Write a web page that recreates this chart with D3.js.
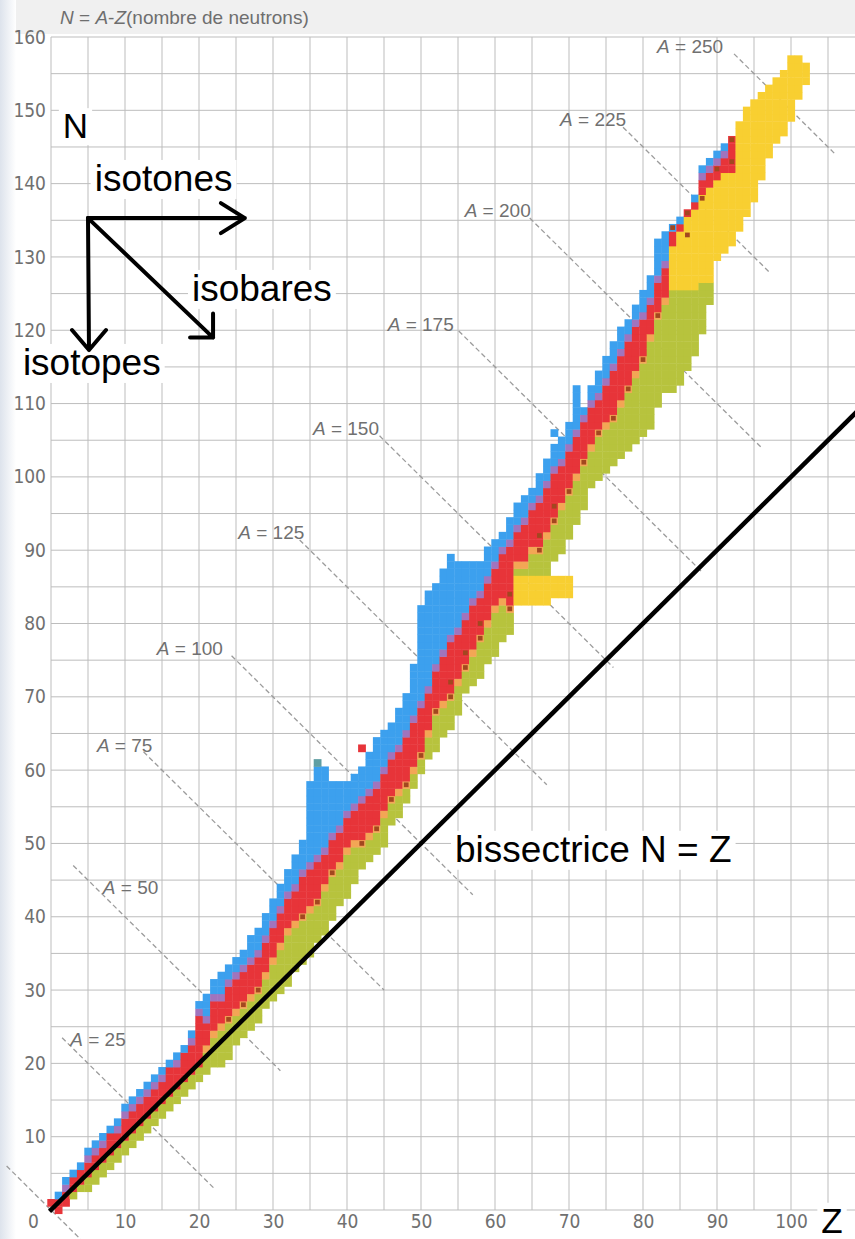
<!DOCTYPE html>
<html>
<head>
<meta charset="utf-8">
<script src="https://cdnjs.cloudflare.com/ajax/libs/d3/7.8.5/d3.min.js"></script>
<style>
    body { margin: 0; background: #fff; }
    svg { display: block; }
    .tick text { font-family: "Liberation Sans Narrow", "DejaVu Sans Condensed", sans-serif; fill: #707070; }
    .big { font-family: "Liberation Sans", Arial, sans-serif; fill: #000; }
</style>
</head>
<body>
<div id="chart"></div>
<script>
// one entry per Z (index = Z)
const zs = [0,1,2,3,4,5,6,7,8,9,10,11,12,13,14,15,16,17,18,19,20,
    21,22,23,24,25,26,27,28,29,30,31,32,33,34,35,36,37,38,39,40,
    41,42,43,44,45,46,47,48,49,50,51,52,53,54,55,56,57,58,59,60,
    61,62,63,64,65,66,67,68,69,70,71,72,73,74,75,76,77,78,79,80,
    81,82,83,84,85,86,87,88,89,90,91,92,93,94,95,96,97,98,99,100,101,102];

// lowest N drawn (proton-rich edge)
const nLow = [1,0,1,2,3,3,4,5,6,7,8,9,10,11,12,13,14,15,16,17,18,
    19,20,20,21,23,24,25,26,28,29,30,31,33,34,35,37,38,40,42,43,
    45,47,48,49,50,53,54,56,58,60,62,63,65,66,68,71,72,73,75,76,
    78,79,87,87,87,87,87,89,90,92,94,96,99,100,101,102,103,104,105,106,
    107,110,112,112,113,115,117,120,124,130,131,132,134,136,138,141,144,146,147,149,152,154];

// orange row just under the red band
const nOrange = [null,null,null,null,null,null,null,null,null,null,null,null,null,null,null,null,null,null,null,null,null,
    22,24,25,26,27,28,29,30,32,34,36,38,39,40,41,42,44,46,47,49,
    50,50,51,52,54,56,57,58,60,62,65,68,69,70,72,74,76,78,80,82,
    83,82,88,88,90,90,92,94,96,98,100,102,104,106,107,108,110,112,114,116,
    119,122,124,null,null,null,null,null,null,null,null,null,null,null,null,null,null,null,null,null,null,null];

// red band
const nRedLo = [1,0,1,3,4,5,6,7,8,9,10,11,12,13,14,15,16,17,18,19,20,
    23,25,26,27,28,29,30,31,33,35,37,39,40,41,42,43,45,47,48,50,
    51,51,52,53,55,57,58,59,61,63,66,69,70,71,73,75,77,79,81,83,
    84,83,89,89,91,91,93,95,97,99,101,103,105,107,108,109,111,113,115,117,
    120,123,125,132,134,136,137,139,140,141,142,142,null,null,null,null,null,null,null,null,null,null];
const nRedHi = [1,1,2,4,5,6,7,8,10,10,12,13,14,15,16,17,19,19,21,22,26,
    25,28,28,30,31,32,33,34,36,38,40,42,43,45,46,47,48,50,51,53,
    54,55,56,57,59,61,62,64,66,68,70,73,75,77,78,80,82,83,85,87,
    89,90,92,93,95,96,98,100,101,103,105,107,109,110,112,114,116,118,120,121,
    123,126,128,133,134,136,137,140,141,142,143,146,null,null,null,null,null,null,null,null,null,null];

// highest N drawn (neutron-rich edge)
const nHigh = [1,2,4,5,6,8,9,10,11,12,14,15,16,17,18,19,20,21,22,24,28,
    29,31,32,33,34,35,37,38,40,42,44,46,48,50,58,60,60,58,58,58,
    59,60,62,64,65,66,68,70,74,82,84,85,87,88,88,88,88,88,90,91,
    92,94,96,97,98,100,102,104,105,107,108,109,112,114,116,118,120,121,123,125,
    127,132,133,134,135,136,138,142,143,144,145,146,148,150,151,152,153,154,155,157,157,156];

// alpha emitters (yellow)
const alphaLo = [null,null,null,null,null,null,null,null,null,null,null,null,null,null,null,null,null,null,null,null,null,
    null,null,null,null,null,null,null,null,null,null,null,null,null,null,null,null,null,null,null,null,
    null,null,null,null,null,null,null,null,null,null,null,null,null,null,null,null,null,null,null,null,
    null,null,83,83,83,83,83,84,84,84,null,null,null,null,null,null,null,null,null,null,
    null,null,null,126,126,126,126,127,127,130,131,132,134,136,138,141,144,146,147,149,152,154];
const alphaHi = [null,null,null,null,null,null,null,null,null,null,null,null,null,null,null,null,null,null,null,null,null,
    null,null,null,null,null,null,null,null,null,null,null,null,null,null,null,null,null,null,null,null,
    null,null,null,null,null,null,null,null,null,null,null,null,null,null,null,null,null,null,null,null,
    null,null,86,86,86,86,86,86,86,86,null,null,null,null,null,null,null,null,null,null,
    null,null,null,131,133,135,136,138,139,140,141,141,148,150,151,152,153,154,155,157,157,156];

// small dark squares [Z, N]
const darkMarks = [[24,26],[26,28],[28,30],[34,40],[36,42],[38,46],[42,50],[44,52],[46,56],[48,58],
    [50,62],[52,68],[54,70],[54,72],[56,74],[56,76],[58,78],[58,80],[62,82],[62,84],
    [66,90],[66,92],[68,94],[68,96],[70,98],[72,102],[74,106],[76,108],[78,112],[80,116],
    [82,122],[84,134],[86,133],[86,136],[88,138],[90,142],[92,143],[92,146]];

// isolated cells [Z, N, kind]
const extraCells = [[36,61,'teal'],[42,63,'stable'],[54,89,'betaMinus'],[68,106,'betaMinus'],
    [71,109,'betaMinus'],[71,110,'betaMinus'],[71,111,'betaMinus'],[71,112,'betaMinus']];

// isobar lines A = const, with label anchor (Z, N)
const isobarA = [0,25,50,75,100,125,150,175,200,225,250];
const isobarZ0 = [-6,1.5,3,12.5,24.4,33.6,44.4,55.1,64.7,77.3,92.3];
const isobarZ1 = [4,22,31,45,57,67,76,88,96,97,106];
const labelZ = [null,2.6,7.0,6.2,14.3,25.3,35.4,45.5,55.9,68.8,81.9];
const labelN = [null,22.4,43.1,62.5,75.7,91.5,105.7,119.9,135.5,147.9,157.8];

const xTicks = [0,10,20,30,40,50,60,70,80,90,100];
const yTicks = [10,20,30,40,50,60,70,80,90,100,110,120,130,140,150,160];

const colors = {
    betaPlus: '#b7c33d',
    ec: '#f3a655',
    stable: '#e73439',
    mixed: '#a174bd',
    betaMinus: '#3ca0ee',
    alpha: '#f8cf31',
    teal: '#5f9ea3',
    dark: '#a3471f'
};

const W = 855, H = 1239;
const svg = d3.select('#chart').append('svg')
    .attr('width', W)
    .attr('height', H);

const x = d3.scaleLinear().domain([0, 100]).range([51, 791]);
const y = d3.scaleLinear().domain([0, 160]).range([1210, 37]);

// paper shading
const defs = svg.append('defs');
const lg = defs.append('linearGradient').attr('id', 'leftShade');
lg.append('stop').attr('offset', '0%').attr('stop-color', '#dde3ec');
lg.append('stop').attr('offset', '100%').attr('stop-color', '#ffffff');
svg.append('rect').attr('x', 0).attr('y', 0).attr('width', W).attr('height', 34).attr('fill', '#f0f0f0');
svg.append('rect').attr('x', 0).attr('y', 0).attr('width', 16).attr('height', H).attr('fill', 'url(#leftShade)');

// grid
const grid = svg.append('g').attr('stroke', '#bdbdbd').attr('stroke-width', 1);
grid.selectAll('.gv')
    .data(d3.range(0, 110, 5))
    .enter().append('line')
    .attr('x1', d => x(d)).attr('x2', d => x(d))
    .attr('y1', y(0)).attr('y2', y(160));
grid.selectAll('.gh')
    .data(d3.range(0, 165, 5))
    .enter().append('line')
    .attr('x1', x(0)).attr('x2', W)
    .attr('y1', d => y(d)).attr('y2', d => y(d));

// axes (labels only)
const yAxis = svg.append('g')
    .attr('transform', 'translate(' + x(0) + ',0)')
    .call(d3.axisLeft(y).tickValues(yTicks).tickSize(0).tickPadding(5));
const xAxis = svg.append('g')
    .attr('transform', 'translate(0,' + y(0) + ')')
    .call(d3.axisBottom(x).tickValues(xTicks).tickSize(0).tickPadding(5));
[yAxis, xAxis].forEach(a => {
    a.select('.domain').remove();
    a.selectAll('text').style('font-size', '19px');
});
xAxis.selectAll('.tick').filter(d => d === 0).select('text').attr('dx', -18);

// isobar lines
const iso = svg.append('g');
isobarA.forEach((a, i) => {
    iso.append('line')
        .attr('x1', x(isobarZ0[i])).attr('y1', y(a - isobarZ0[i]))
        .attr('x2', x(isobarZ1[i])).attr('y2', y(a - isobarZ1[i]))
        .attr('stroke', '#9c9c9c')
        .attr('stroke-width', 1.3)
        .attr('stroke-dasharray', '5,3');
    if (labelZ[i] != null) {
        const t = iso.append('text')
            .attr('x', x(labelZ[i]))
            .attr('y', y(labelN[i]))
            .style('font-family', '"Liberation Sans", Arial, sans-serif')
            .style('font-size', '19px')
            .style('fill', '#707070');
        t.append('tspan').style('font-style', 'italic').text('A');
        t.append('tspan').text(' = ' + a);
    }
});

// build cells
const cells = [];
zs.forEach((z, i) => {
    const lo = nLow[i], hi = nHigh[i], o = nOrange[i], rl = nRedLo[i], rh = nRedHi[i];
    const al = alphaLo[i], ah = alphaHi[i];
    const greenEnd = (o != null ? o : (rl != null ? rl : hi + 1)) - 1;
    for (let n = lo; n <= hi; n++) {
        let k;
        if (al != null && n >= al && n <= ah) k = 'alpha';
        else if (n <= greenEnd) k = 'betaPlus';
        else if (o != null && n === o) k = 'ec';
        else if (rl != null && n <= rh) k = 'stable';
        else if (rh != null && n === rh + 1 && hi >= rh + 2) k = 'mixed';
        else k = 'betaMinus';
        cells.push({z: z, n: n, k: k});
    }
    if (al != null) {
        for (let n = al; n <= ah; n++) {
            if (n < lo || n > hi) cells.push({z: z, n: n, k: 'alpha'});
        }
    }
});
extraCells.forEach(c => cells.push({z: c[0], n: c[1], k: c[2]}));

const cw = x(1) - x(0), ch = y(0) - y(1);
svg.append('g').selectAll('.cell')
    .data(cells)
    .enter().append('rect')
    .attr('class', 'cell')
    .attr('x', d => x(d.z - 0.5))
    .attr('y', d => y(d.n + 0.5))
    .attr('width', cw + 0.4)
    .attr('height', ch + 0.4)
    .attr('fill', d => colors[d.k]);

svg.append('g').selectAll('.mark')
    .data(darkMarks)
    .enter().append('rect')
    .attr('x', d => x(d[0] - 0.32))
    .attr('y', d => y(d[1] + 0.32))
    .attr('width', cw * 0.64)
    .attr('height', ch * 0.64)
    .attr('fill', colors.dark);

// bisector N = Z
svg.append('line')
    .attr('x1', x(-0.2)).attr('y1', y(-0.2))
    .attr('x2', x(110)).attr('y2', y(110))
    .attr('stroke', '#000')
    .attr('stroke-width', 4.5);

// big labels with white boxes behind
function bigLabel(txt, zx, ny, size) {
    const g = svg.append('g');
    const t = g.append('text')
        .attr('class', 'big')
        .attr('x', x(zx)).attr('y', y(ny))
        .style('font-size', size + 'px')
        .text(txt);
    const b = t.node().getBBox();
    g.insert('rect', 'text')
        .attr('x', b.x - 4).attr('y', b.y + 2)
        .attr('width', b.width + 8).attr('height', b.height - 2)
        .attr('fill', '#fff');
    return g;
}
bigLabel('N', 1.6, 146.2, 35);
bigLabel('isotones', 5.9, 139, 37);
bigLabel('isobares', 19.05, 124, 37);
bigLabel('isotopes', -3.8, 113.9, 37);
bigLabel('bissectrice N = Z', 54.6, 47.5, 37);
bigLabel('Z', 104.1, -3.1, 35);

// arrows
const arr = svg.append('g')
    .attr('stroke', '#000')
    .attr('stroke-width', 4)
    .attr('fill', 'none')
    .attr('stroke-linecap', 'round')
    .attr('stroke-linejoin', 'round');
const ox = x(5), oy = y(135.3);
arr.append('path').attr('d', 'M' + ox + ',' + oy + 'H' + x(26.2)
    + 'M' + (x(26.2) - 24) + ',' + (oy - 15) + 'L' + x(26.2) + ',' + oy + 'L' + (x(26.2) - 24) + ',' + (oy + 15));
arr.append('path').attr('d', 'M' + ox + ',' + oy + 'L' + (ox + 1) + ',' + y(117.3)
    + 'M' + (ox - 16) + ',' + (y(117.3) - 20) + 'L' + (ox + 1) + ',' + y(117.3) + 'L' + (ox + 18) + ',' + (y(117.3) - 20));
arr.append('path').attr('d', 'M' + ox + ',' + oy + 'L' + x(21.9) + ',' + y(119)
    + 'M' + x(21.9) + ',' + (y(119) - 24) + 'L' + x(21.9) + ',' + y(119) + 'L' + (x(21.9) - 23) + ',' + y(119));

// header
const head = svg.append('text')
    .attr('x', 60).attr('y', 24)
    .style('font-family', '"Liberation Sans", Arial, sans-serif')
    .style('font-size', '19px')
    .style('fill', '#6e6e6e');
head.append('tspan').style('font-style', 'italic').text('N');
head.append('tspan').text(' = ');
head.append('tspan').style('font-style', 'italic').text('A');
head.append('tspan').text('-');
head.append('tspan').style('font-style', 'italic').text('Z');
head.append('tspan').text('(nombre de neutrons)');
</script>
</body>
</html>
